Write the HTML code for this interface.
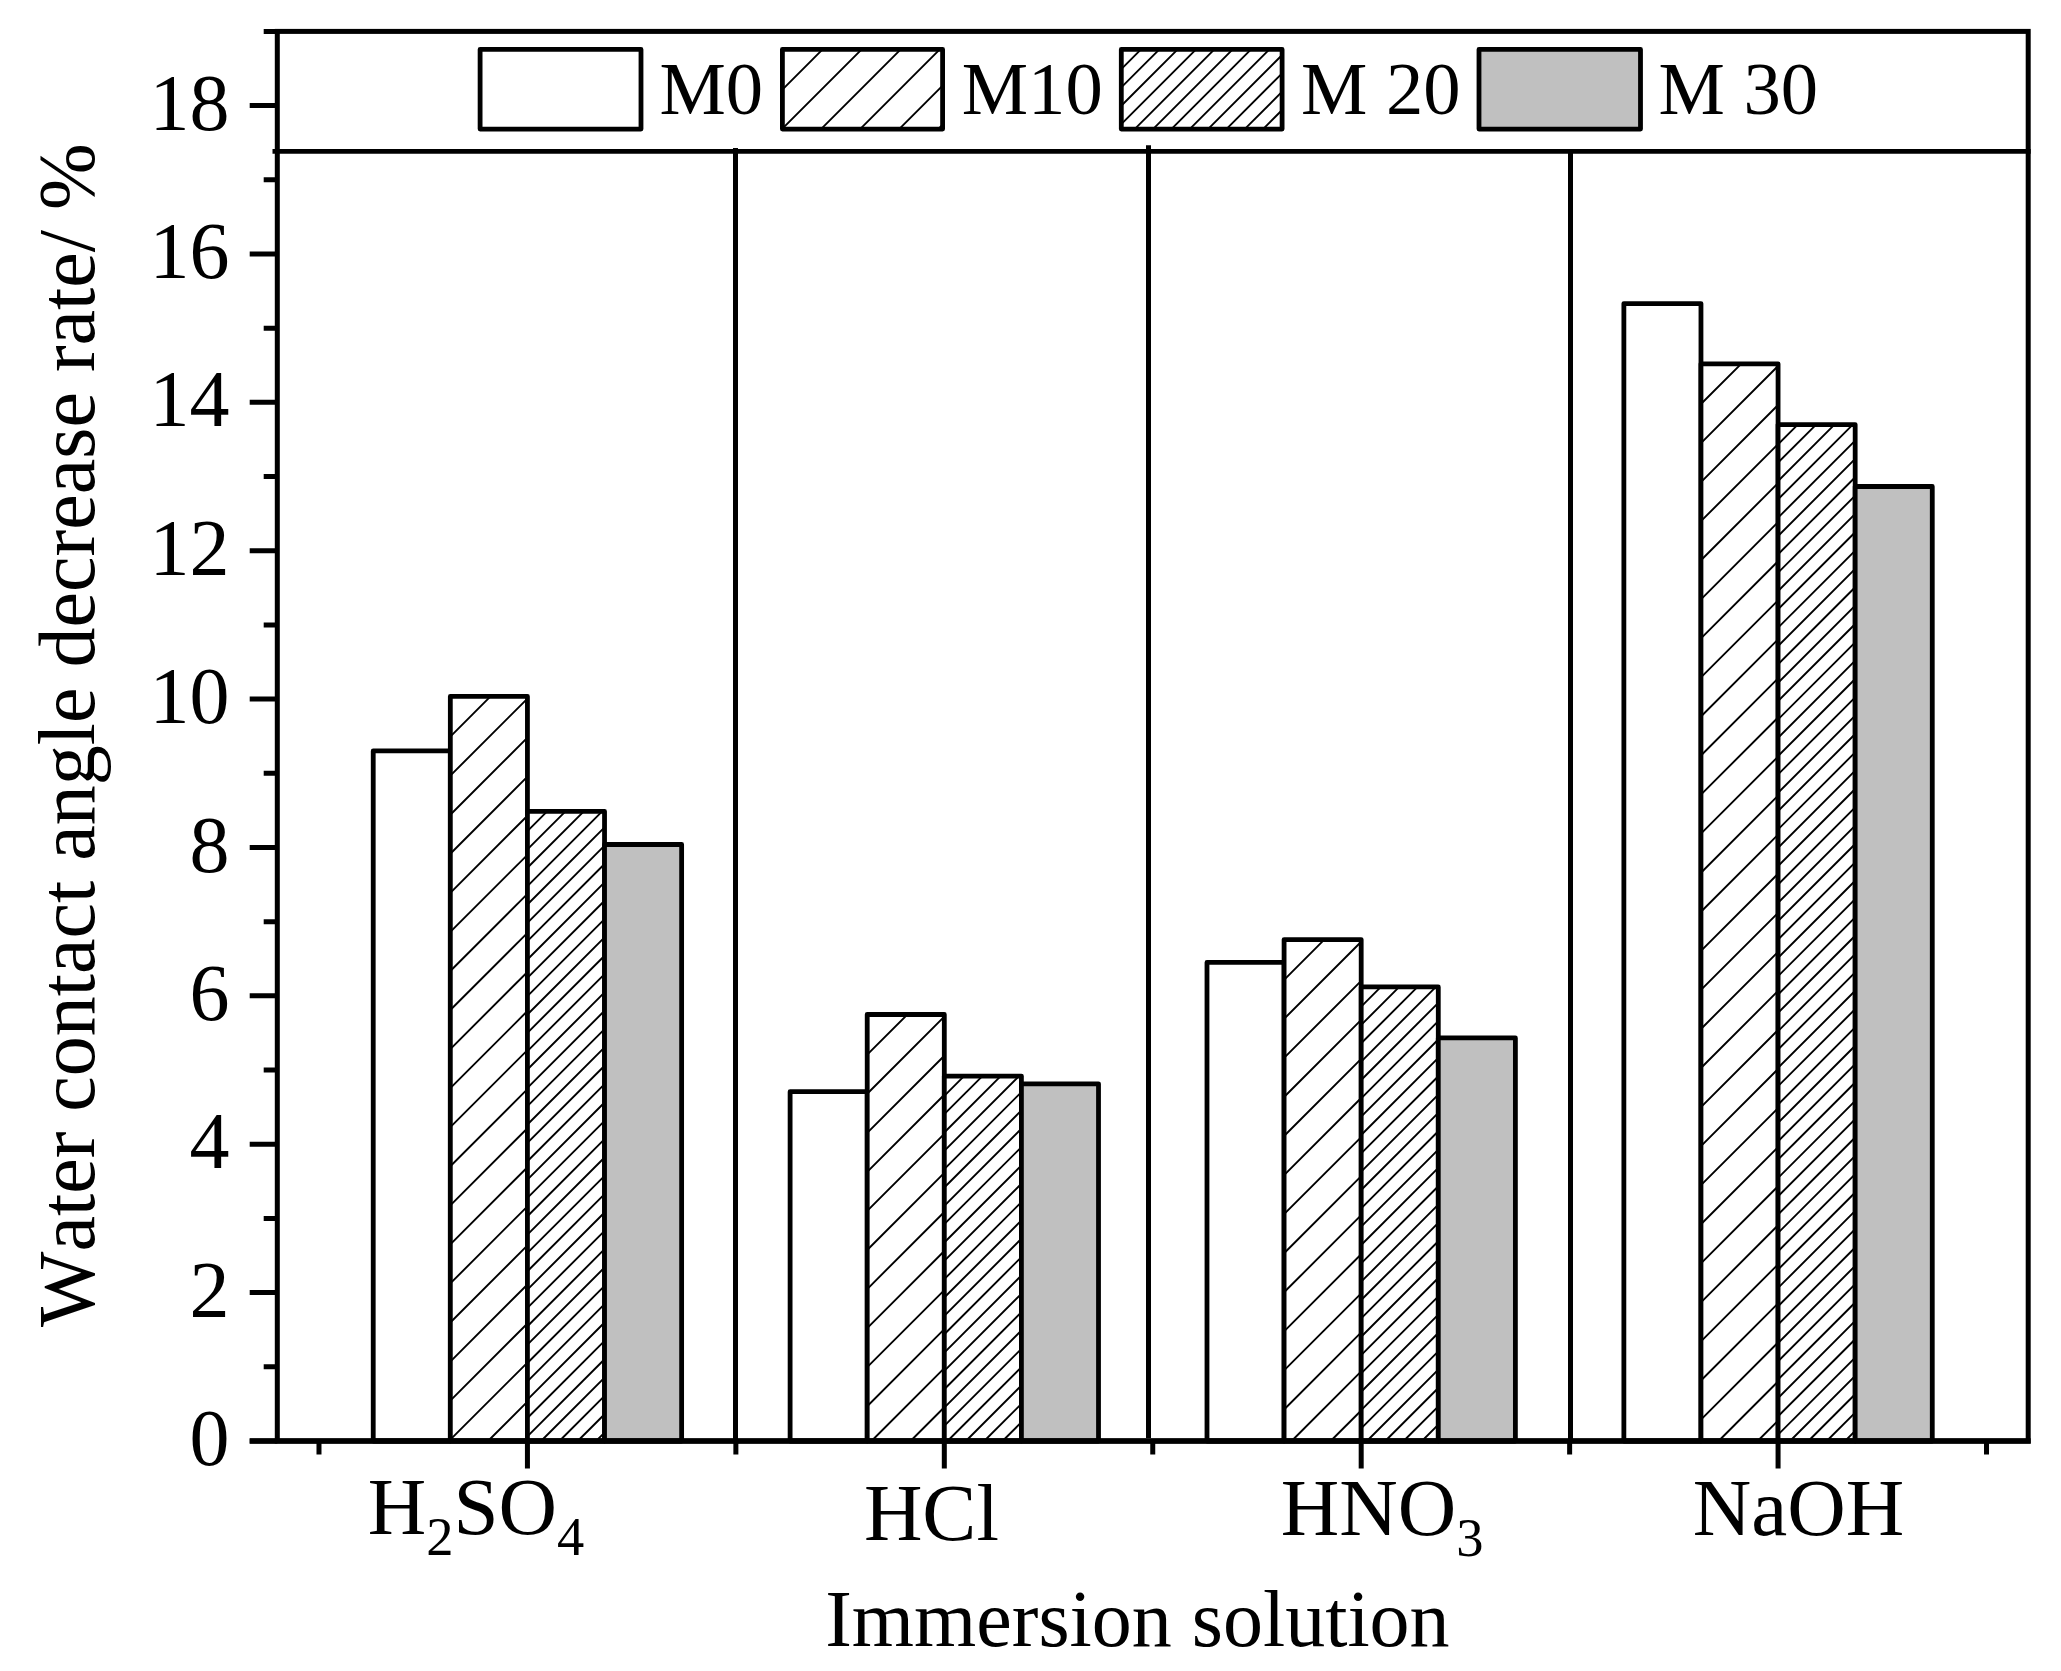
<!DOCTYPE html>
<html lang="en"><head><meta charset="utf-8"><title>Water contact angle decrease rate</title>
<style>html,body{margin:0;padding:0;background:#fff}body{width:2061px;height:1671px;overflow:hidden}svg{display:block}text{font-family:"Liberation Serif","Times New Roman",Times,serif;fill:#000;font-kerning:none;font-variant-ligatures:none}</style>
</head><body>
<svg width="2061" height="1671" viewBox="0 0 2061 1671">
<rect x="0" y="0" width="2061" height="1671" fill="#fff"/>
<g id="bars">
<rect x="373.23" y="750.90" width="77.10" height="690.10" fill="#fff"/>
<rect x="373.23" y="750.90" width="77.10" height="690.10" fill="none" stroke="#000" stroke-width="4.80" stroke-linejoin="round"/>
<rect x="450.33" y="696.40" width="77.10" height="744.60" fill="#fff"/>
<path d="M450.33 736.60L490.53 696.40M450.33 775.66L527.43 698.56M450.33 814.72L527.43 737.62M450.33 853.78L527.43 776.68M450.33 892.84L527.43 815.74M450.33 931.90L527.43 854.80M450.33 970.96L527.43 893.86M450.33 1010.02L527.43 932.92M450.33 1049.08L527.43 971.98M450.33 1088.14L527.43 1011.04M450.33 1127.20L527.43 1050.10M450.33 1166.26L527.43 1089.16M450.33 1205.32L527.43 1128.22M450.33 1244.38L527.43 1167.28M450.33 1283.44L527.43 1206.34M450.33 1322.50L527.43 1245.40M450.33 1361.56L527.43 1284.46M450.33 1400.62L527.43 1323.52M450.33 1439.68L527.43 1362.58M488.07 1441.00L527.43 1401.64M527.13 1441.00L527.43 1440.70" stroke="#000" stroke-width="1.90" fill="none"/>
<rect x="450.33" y="696.40" width="77.10" height="744.60" fill="none" stroke="#000" stroke-width="4.80" stroke-linejoin="round"/>
<rect x="527.43" y="811.40" width="77.10" height="629.60" fill="#fff"/>
<path d="M527.43 831.10L547.13 811.40M527.43 849.44L565.47 811.40M527.43 867.78L583.81 811.40M527.43 886.12L602.15 811.40M527.43 904.46L604.53 827.36M527.43 922.80L604.53 845.70M527.43 941.14L604.53 864.04M527.43 959.48L604.53 882.38M527.43 977.82L604.53 900.72M527.43 996.16L604.53 919.06M527.43 1014.50L604.53 937.40M527.43 1032.84L604.53 955.74M527.43 1051.18L604.53 974.08M527.43 1069.52L604.53 992.42M527.43 1087.86L604.53 1010.76M527.43 1106.20L604.53 1029.10M527.43 1124.54L604.53 1047.44M527.43 1142.88L604.53 1065.78M527.43 1161.22L604.53 1084.12M527.43 1179.56L604.53 1102.46M527.43 1197.90L604.53 1120.80M527.43 1216.24L604.53 1139.14M527.43 1234.58L604.53 1157.48M527.43 1252.92L604.53 1175.82M527.43 1271.26L604.53 1194.16M527.43 1289.60L604.53 1212.50M527.43 1307.94L604.53 1230.84M527.43 1326.28L604.53 1249.18M527.43 1344.62L604.53 1267.52M527.43 1362.96L604.53 1285.86M527.43 1381.30L604.53 1304.20M527.43 1399.64L604.53 1322.54M527.43 1417.98L604.53 1340.88M527.43 1436.32L604.53 1359.22M541.09 1441.00L604.53 1377.56M559.43 1441.00L604.53 1395.90M577.77 1441.00L604.53 1414.24M596.11 1441.00L604.53 1432.58" stroke="#000" stroke-width="1.90" fill="none"/>
<rect x="527.43" y="811.40" width="77.10" height="629.60" fill="none" stroke="#000" stroke-width="4.80" stroke-linejoin="round"/>
<rect x="604.53" y="844.50" width="77.10" height="596.50" fill="#c0c0c0"/>
<rect x="604.53" y="844.50" width="77.10" height="596.50" fill="none" stroke="#000" stroke-width="4.80" stroke-linejoin="round"/>
<rect x="790.11" y="1091.70" width="77.10" height="349.30" fill="#fff"/>
<rect x="790.11" y="1091.70" width="77.10" height="349.30" fill="none" stroke="#000" stroke-width="4.80" stroke-linejoin="round"/>
<rect x="867.21" y="1014.50" width="77.10" height="426.50" fill="#fff"/>
<path d="M867.21 1054.70L907.41 1014.50M867.21 1093.76L944.31 1016.66M867.21 1132.82L944.31 1055.72M867.21 1171.88L944.31 1094.78M867.21 1210.94L944.31 1133.84M867.21 1250.00L944.31 1172.90M867.21 1289.06L944.31 1211.96M867.21 1328.12L944.31 1251.02M867.21 1367.18L944.31 1290.08M867.21 1406.24L944.31 1329.14M871.51 1441.00L944.31 1368.20M910.57 1441.00L944.31 1407.26" stroke="#000" stroke-width="1.90" fill="none"/>
<rect x="867.21" y="1014.50" width="77.10" height="426.50" fill="none" stroke="#000" stroke-width="4.80" stroke-linejoin="round"/>
<rect x="944.31" y="1076.10" width="77.10" height="364.90" fill="#fff"/>
<path d="M944.31 1095.80L964.01 1076.10M944.31 1114.14L982.35 1076.10M944.31 1132.48L1000.69 1076.10M944.31 1150.82L1019.03 1076.10M944.31 1169.16L1021.41 1092.06M944.31 1187.50L1021.41 1110.40M944.31 1205.84L1021.41 1128.74M944.31 1224.18L1021.41 1147.08M944.31 1242.52L1021.41 1165.42M944.31 1260.86L1021.41 1183.76M944.31 1279.20L1021.41 1202.10M944.31 1297.54L1021.41 1220.44M944.31 1315.88L1021.41 1238.78M944.31 1334.22L1021.41 1257.12M944.31 1352.56L1021.41 1275.46M944.31 1370.90L1021.41 1293.80M944.31 1389.24L1021.41 1312.14M944.31 1407.58L1021.41 1330.48M944.31 1425.92L1021.41 1348.82M947.57 1441.00L1021.41 1367.16M965.91 1441.00L1021.41 1385.50M984.25 1441.00L1021.41 1403.84M1002.59 1441.00L1021.41 1422.18M1020.93 1441.00L1021.41 1440.52" stroke="#000" stroke-width="1.90" fill="none"/>
<rect x="944.31" y="1076.10" width="77.10" height="364.90" fill="none" stroke="#000" stroke-width="4.80" stroke-linejoin="round"/>
<rect x="1021.41" y="1083.80" width="77.10" height="357.20" fill="#c0c0c0"/>
<rect x="1021.41" y="1083.80" width="77.10" height="357.20" fill="none" stroke="#000" stroke-width="4.80" stroke-linejoin="round"/>
<rect x="1206.99" y="962.40" width="77.10" height="478.60" fill="#fff"/>
<rect x="1206.99" y="962.40" width="77.10" height="478.60" fill="none" stroke="#000" stroke-width="4.80" stroke-linejoin="round"/>
<rect x="1284.09" y="939.60" width="77.10" height="501.40" fill="#fff"/>
<path d="M1284.09 979.80L1324.29 939.60M1284.09 1018.86L1361.19 941.76M1284.09 1057.92L1361.19 980.82M1284.09 1096.98L1361.19 1019.88M1284.09 1136.04L1361.19 1058.94M1284.09 1175.10L1361.19 1098.00M1284.09 1214.16L1361.19 1137.06M1284.09 1253.22L1361.19 1176.12M1284.09 1292.28L1361.19 1215.18M1284.09 1331.34L1361.19 1254.24M1284.09 1370.40L1361.19 1293.30M1284.09 1409.46L1361.19 1332.36M1291.61 1441.00L1361.19 1371.42M1330.67 1441.00L1361.19 1410.48" stroke="#000" stroke-width="1.90" fill="none"/>
<rect x="1284.09" y="939.60" width="77.10" height="501.40" fill="none" stroke="#000" stroke-width="4.80" stroke-linejoin="round"/>
<rect x="1361.19" y="986.90" width="77.10" height="454.10" fill="#fff"/>
<path d="M1361.19 1006.60L1380.89 986.90M1361.19 1024.94L1399.23 986.90M1361.19 1043.28L1417.57 986.90M1361.19 1061.62L1435.91 986.90M1361.19 1079.96L1438.29 1002.86M1361.19 1098.30L1438.29 1021.20M1361.19 1116.64L1438.29 1039.54M1361.19 1134.98L1438.29 1057.88M1361.19 1153.32L1438.29 1076.22M1361.19 1171.66L1438.29 1094.56M1361.19 1190.00L1438.29 1112.90M1361.19 1208.34L1438.29 1131.24M1361.19 1226.68L1438.29 1149.58M1361.19 1245.02L1438.29 1167.92M1361.19 1263.36L1438.29 1186.26M1361.19 1281.70L1438.29 1204.60M1361.19 1300.04L1438.29 1222.94M1361.19 1318.38L1438.29 1241.28M1361.19 1336.72L1438.29 1259.62M1361.19 1355.06L1438.29 1277.96M1361.19 1373.40L1438.29 1296.30M1361.19 1391.74L1438.29 1314.64M1361.19 1410.08L1438.29 1332.98M1361.19 1428.42L1438.29 1351.32M1366.95 1441.00L1438.29 1369.66M1385.29 1441.00L1438.29 1388.00M1403.63 1441.00L1438.29 1406.34M1421.97 1441.00L1438.29 1424.68" stroke="#000" stroke-width="1.90" fill="none"/>
<rect x="1361.19" y="986.90" width="77.10" height="454.10" fill="none" stroke="#000" stroke-width="4.80" stroke-linejoin="round"/>
<rect x="1438.29" y="1037.90" width="77.10" height="403.10" fill="#c0c0c0"/>
<rect x="1438.29" y="1037.90" width="77.10" height="403.10" fill="none" stroke="#000" stroke-width="4.80" stroke-linejoin="round"/>
<rect x="1623.87" y="303.60" width="77.10" height="1137.40" fill="#fff"/>
<rect x="1623.87" y="303.60" width="77.10" height="1137.40" fill="none" stroke="#000" stroke-width="4.80" stroke-linejoin="round"/>
<rect x="1700.97" y="363.80" width="77.10" height="1077.20" fill="#fff"/>
<path d="M1700.97 404.00L1741.17 363.80M1700.97 443.06L1778.07 365.96M1700.97 482.12L1778.07 405.02M1700.97 521.18L1778.07 444.08M1700.97 560.24L1778.07 483.14M1700.97 599.30L1778.07 522.20M1700.97 638.36L1778.07 561.26M1700.97 677.42L1778.07 600.32M1700.97 716.48L1778.07 639.38M1700.97 755.54L1778.07 678.44M1700.97 794.60L1778.07 717.50M1700.97 833.66L1778.07 756.56M1700.97 872.72L1778.07 795.62M1700.97 911.78L1778.07 834.68M1700.97 950.84L1778.07 873.74M1700.97 989.90L1778.07 912.80M1700.97 1028.96L1778.07 951.86M1700.97 1068.02L1778.07 990.92M1700.97 1107.08L1778.07 1029.98M1700.97 1146.14L1778.07 1069.04M1700.97 1185.20L1778.07 1108.10M1700.97 1224.26L1778.07 1147.16M1700.97 1263.32L1778.07 1186.22M1700.97 1302.38L1778.07 1225.28M1700.97 1341.44L1778.07 1264.34M1700.97 1380.50L1778.07 1303.40M1700.97 1419.56L1778.07 1342.46M1718.59 1441.00L1778.07 1381.52M1757.65 1441.00L1778.07 1420.58" stroke="#000" stroke-width="1.90" fill="none"/>
<rect x="1700.97" y="363.80" width="77.10" height="1077.20" fill="none" stroke="#000" stroke-width="4.80" stroke-linejoin="round"/>
<rect x="1778.07" y="424.60" width="77.10" height="1016.40" fill="#fff"/>
<path d="M1778.07 444.30L1797.77 424.60M1778.07 462.64L1816.11 424.60M1778.07 480.98L1834.45 424.60M1778.07 499.32L1852.79 424.60M1778.07 517.66L1855.17 440.56M1778.07 536.00L1855.17 458.90M1778.07 554.34L1855.17 477.24M1778.07 572.68L1855.17 495.58M1778.07 591.02L1855.17 513.92M1778.07 609.36L1855.17 532.26M1778.07 627.70L1855.17 550.60M1778.07 646.04L1855.17 568.94M1778.07 664.38L1855.17 587.28M1778.07 682.72L1855.17 605.62M1778.07 701.06L1855.17 623.96M1778.07 719.40L1855.17 642.30M1778.07 737.74L1855.17 660.64M1778.07 756.08L1855.17 678.98M1778.07 774.42L1855.17 697.32M1778.07 792.76L1855.17 715.66M1778.07 811.10L1855.17 734.00M1778.07 829.44L1855.17 752.34M1778.07 847.78L1855.17 770.68M1778.07 866.12L1855.17 789.02M1778.07 884.46L1855.17 807.36M1778.07 902.80L1855.17 825.70M1778.07 921.14L1855.17 844.04M1778.07 939.48L1855.17 862.38M1778.07 957.82L1855.17 880.72M1778.07 976.16L1855.17 899.06M1778.07 994.50L1855.17 917.40M1778.07 1012.84L1855.17 935.74M1778.07 1031.18L1855.17 954.08M1778.07 1049.52L1855.17 972.42M1778.07 1067.86L1855.17 990.76M1778.07 1086.20L1855.17 1009.10M1778.07 1104.54L1855.17 1027.44M1778.07 1122.88L1855.17 1045.78M1778.07 1141.22L1855.17 1064.12M1778.07 1159.56L1855.17 1082.46M1778.07 1177.90L1855.17 1100.80M1778.07 1196.24L1855.17 1119.14M1778.07 1214.58L1855.17 1137.48M1778.07 1232.92L1855.17 1155.82M1778.07 1251.26L1855.17 1174.16M1778.07 1269.60L1855.17 1192.50M1778.07 1287.94L1855.17 1210.84M1778.07 1306.28L1855.17 1229.18M1778.07 1324.62L1855.17 1247.52M1778.07 1342.96L1855.17 1265.86M1778.07 1361.30L1855.17 1284.20M1778.07 1379.64L1855.17 1302.54M1778.07 1397.98L1855.17 1320.88M1778.07 1416.32L1855.17 1339.22M1778.07 1434.66L1855.17 1357.56M1790.07 1441.00L1855.17 1375.90M1808.41 1441.00L1855.17 1394.24M1826.75 1441.00L1855.17 1412.58M1845.09 1441.00L1855.17 1430.92" stroke="#000" stroke-width="1.90" fill="none"/>
<rect x="1778.07" y="424.60" width="77.10" height="1016.40" fill="none" stroke="#000" stroke-width="4.80" stroke-linejoin="round"/>
<rect x="1855.17" y="486.50" width="77.10" height="954.50" fill="#c0c0c0"/>
<rect x="1855.17" y="486.50" width="77.10" height="954.50" fill="none" stroke="#000" stroke-width="4.80" stroke-linejoin="round"/>
</g>
<g id="separators" stroke="#000" stroke-width="5.0" fill="none">
<path d="M735.5 147.9V1441.0"/>
<path d="M1148.5 145.2V1438.0"/>
<path d="M1570.5 151V1441.0"/>
<path d="M272.5 151.4H2030.7" stroke-width="4.8"/>
</g>
<g id="axes" stroke="#000" stroke-width="5.0" fill="none">
<rect x="277.3" y="31.4" width="1750.9" height="1409.6"/>
<path d="M277.30 1441.00H249.70M277.30 1366.81H263.70M277.30 1292.62H249.70M277.30 1218.43H263.70M277.30 1144.24H249.70M277.30 1070.05H263.70M277.30 995.86H249.70M277.30 921.67H263.70M277.30 847.48H249.70M277.30 773.29H263.70M277.30 699.11H249.70M277.30 624.92H263.70M277.30 550.73H249.70M277.30 476.54H263.70M277.30 402.35H249.70M277.30 328.16H263.70M277.30 253.97H249.70M277.30 179.78H263.70M277.30 105.59H249.70M277.30 31.40H263.70M318.99 1441.00V1454.60M527.43 1441.00V1468.60M735.87 1441.00V1454.60M944.31 1441.00V1468.60M1152.75 1441.00V1454.60M1361.19 1441.00V1468.60M1569.63 1441.00V1454.60M1778.07 1441.00V1468.60M1986.51 1441.00V1454.60"/>
<path d="M249.70 1441.00H2030.70" stroke-width="5.4"/>
</g>
<g id="yticks" font-size="80" text-anchor="end">
<text x="229.4" y="1465.1">0</text>
<text x="229.4" y="1316.7">2</text>
<text x="229.4" y="1168.3">4</text>
<text x="229.4" y="1020.0">6</text>
<text x="229.4" y="871.6">8</text>
<text x="229.4" y="723.2">10</text>
<text x="229.4" y="574.8">12</text>
<text x="229.4" y="426.4">14</text>
<text x="229.4" y="278.1">16</text>
<text x="229.4" y="129.7">18</text>
</g>
<g id="xlabels" font-size="81" text-anchor="middle">
<text x="475.9" y="1534.3">H<tspan font-size="54.5" dy="21">2</tspan><tspan dy="-21">SO</tspan><tspan font-size="54.5" dy="21">4</tspan></text>
<text x="931.4" y="1540">HCl</text>
<text x="1382.1" y="1534.8">HNO<tspan font-size="54.5" dy="21">3</tspan></text>
<text x="1798.6" y="1534.8">NaOH</text>
</g>
<text id="xtitle" x="1137.4" y="1646.4" font-size="80" text-anchor="middle">Immersion solution</text>
<text id="ytitle" transform="translate(93.9 735.2) rotate(-90)" font-size="80" text-anchor="middle">Water contact angle decrease rate/ %</text>
<g id="legend">
<rect x="480.10" y="49.40" width="160.90" height="79.70" fill="#fff"/>
<rect x="480.10" y="49.40" width="160.90" height="79.70" fill="none" stroke="#000" stroke-width="4.80" stroke-linejoin="round"/>
<rect x="782.40" y="49.40" width="160.20" height="79.70" fill="#fff"/>
<path d="M782.40 89.60L822.60 49.40M782.40 128.66L861.66 49.40M821.02 129.10L900.72 49.40M860.08 129.10L939.78 49.40M899.14 129.10L942.60 85.64M938.20 129.10L942.60 124.70" stroke="#000" stroke-width="1.90" fill="none"/>
<rect x="782.40" y="49.40" width="160.20" height="79.70" fill="none" stroke="#000" stroke-width="4.80" stroke-linejoin="round"/>
<rect x="1121.30" y="49.40" width="160.80" height="79.70" fill="#fff"/>
<path d="M1121.30 69.10L1141.00 49.40M1121.30 87.44L1159.34 49.40M1121.30 105.78L1177.68 49.40M1121.30 124.12L1196.02 49.40M1134.66 129.10L1214.36 49.40M1153.00 129.10L1232.70 49.40M1171.34 129.10L1251.04 49.40M1189.68 129.10L1269.38 49.40M1208.02 129.10L1282.10 55.02M1226.36 129.10L1282.10 73.36M1244.70 129.10L1282.10 91.70M1263.04 129.10L1282.10 110.04M1281.38 129.10L1282.10 128.38" stroke="#000" stroke-width="1.90" fill="none"/>
<rect x="1121.30" y="49.40" width="160.80" height="79.70" fill="none" stroke="#000" stroke-width="4.80" stroke-linejoin="round"/>
<rect x="1479.00" y="49.40" width="161.50" height="79.70" fill="#c0c0c0"/>
<rect x="1479.00" y="49.40" width="161.50" height="79.70" fill="none" stroke="#000" stroke-width="4.80" stroke-linejoin="round"/>
<g font-size="74.6">
<text x="659.5" y="114">M0</text>
<text x="961.8" y="114">M10</text>
<text x="1301" y="114">M 20</text>
<text x="1658.5" y="114">M 30</text>
</g></g>
</svg></body></html>
